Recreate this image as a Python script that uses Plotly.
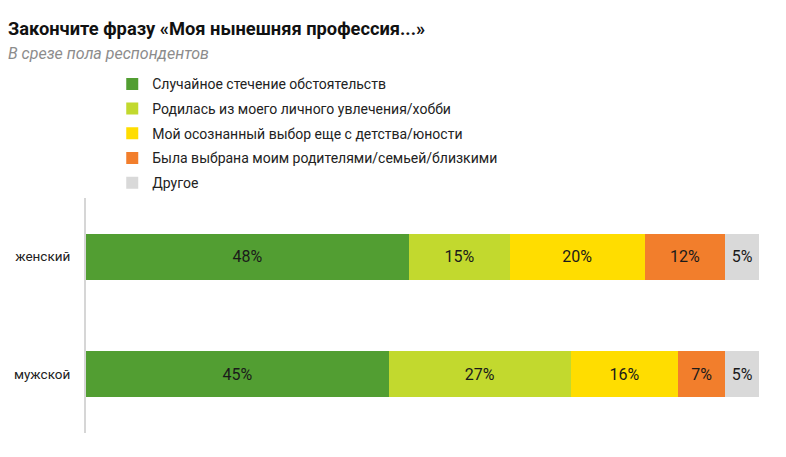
import plotly.graph_objects as go

groups = ["женский", "мужской"]
answers = [
    "Случайное стечение обстоятельств",
    "Родилась из моего личного увлечения/хобби",
    "Мой осознанный выбор еще с детства/юности",
    "Была выбрана моим родителями/семьей/близкими",
    "Другое",
]
female = [48, 15, 20, 12, 5]
male = [45, 27, 16, 7, 5]
colors = ["#529E32", "#C2D92E", "#FFDD00", "#F27E2C", "#D9D9D9"]

fig = go.Figure()
for i, name in enumerate(answers):
    vals = [female[i], male[i]]
    fig.add_trace(go.Bar(
        y=groups,
        x=vals,
        name=name,
        legendgroup=f"g{i}",
        orientation="h",
        marker_color=colors[i],
        marker_line_width=0,
        text=[f"{v}%" for v in vals],
        textposition="inside",
        insidetextanchor="middle",
        textfont=dict(family="Roboto", size=16, color="#1a1a1a"),
        constraintext="none",
    ))

# page body has an 8px margin, so the figure is drawn 8px smaller
fig.update_layout(
    barmode="stack",
    bargap=0.61,
    width=778,
    height=449,
    margin=dict(l=78, r=27, t=190, b=24),
    paper_bgcolor="white",
    plot_bgcolor="white",
    font=dict(family="Roboto", size=14, color="#222"),
    title=dict(
        text="<b>Закончите фразу «Моя нынешняя профессия...»</b>"
             "<br><span style='font-size:16px;color:#8c8c8c'><i>В срезе пола респондентов</i></span>",
        x=0, xanchor="left", y=0.94, yanchor="top",
        font=dict(family="Roboto", size=18.3, color="#111"),
    ),
    legend=dict(
        x=0.039, xanchor="left", y=1.552, yanchor="top",
        traceorder="grouped",
        font=dict(family="Roboto", size=14, color="#222"),
        tracegroupgap=3.5,
        itemclick=False,
    ),
    showlegend=True,
)
fig.update_xaxes(range=[0, 100], visible=False, fixedrange=True)
fig.update_yaxes(
    categoryorder="array", categoryarray=groups, autorange="reversed",
    showline=True, linecolor="#D6D6D6", linewidth=2, automargin=False,
    ticks="", ticklabelstandoff=11, showgrid=False,
    tickfont=dict(family="Roboto", size=13.5, color="#222"),
)

fig.write_html("out.html")
